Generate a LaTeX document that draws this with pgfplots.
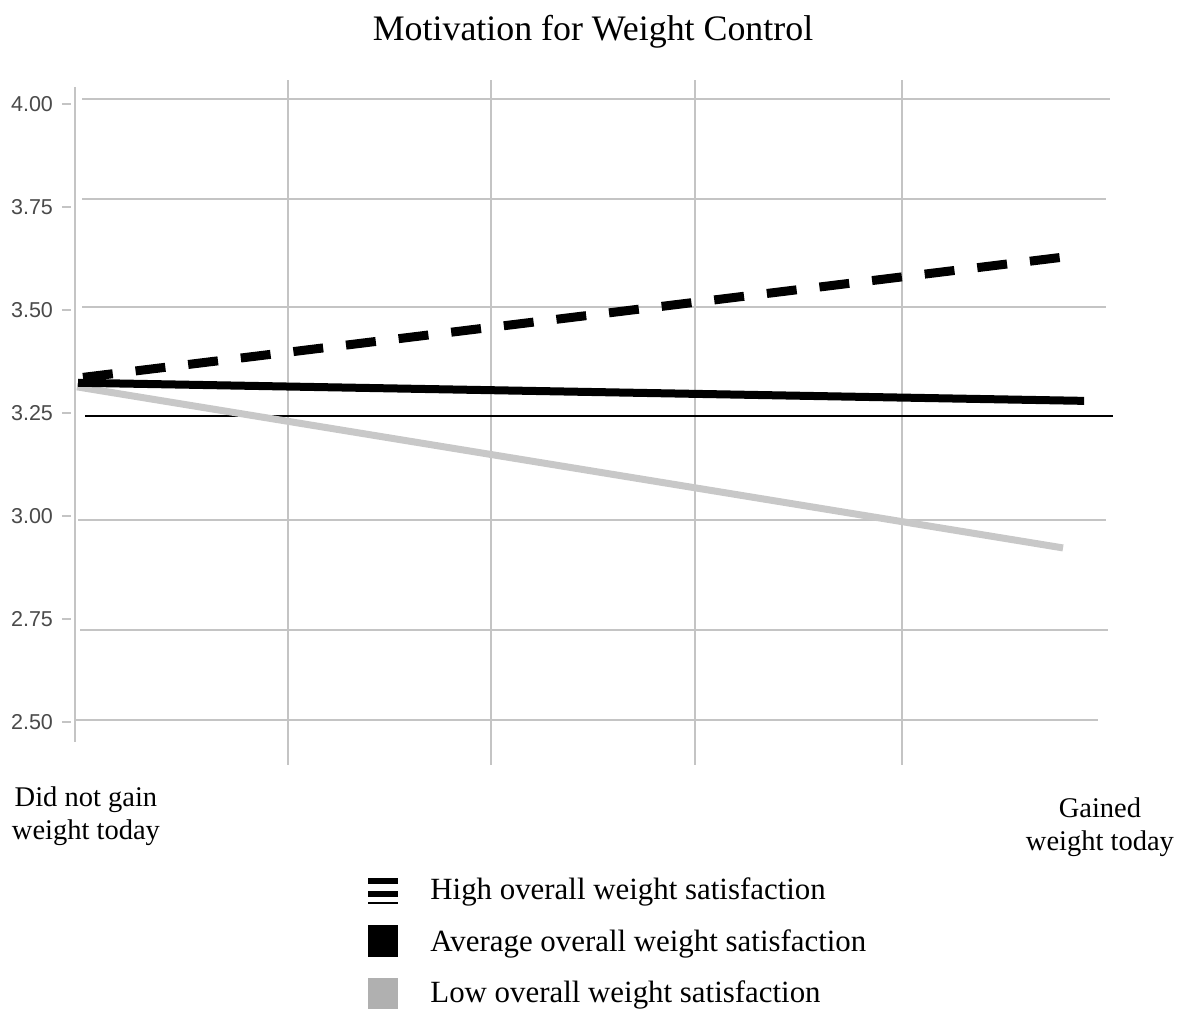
\documentclass[border=0pt]{standalone}
\usepackage{pgfplots}
\pgfplotsset{compat=1.18}
\usepackage{fontspec}
\setmainfont{Liberation Serif}
\newfontfamily\ticksans{Liberation Sans}
\definecolor{gridgray}{HTML}{C4C4C4}
\definecolor{lowgray}{HTML}{C8C8C8}
\definecolor{leggray}{HTML}{B0B0B0}
\definecolor{ticktext}{HTML}{4A4A4A}
\begin{document}
\begin{tikzpicture}
\useasboundingbox (0,0) rectangle (589.5bp,504.5bp);
\begin{axis}[
  at={(37.5bp,122bp)}, anchor=south west,
  scale only axis, width=517.5bp, height=342.5bp,
  xmin=0, xmax=1, ymin=2.396, ymax=4.059,
  clip=false,
  axis line style={draw=none},
  xtick={0.2058,0.4019,0.5990,0.7990},
  xticklabels={},
  xmajorgrids,
  grid style={gridgray, line width=1bp},
  xtick style={draw=none},
  ytick={2.5,2.75,3,3.25,3.5,3.75,4},
  ytick pos=left, ytick align=outside,
  major tick length=4.5bp,
  ytick style={gridgray, line width=1bp, xshift=-2bp},
  /pgf/number format/assume math mode=true,
  yticklabel style={font=\ticksans\fontsize{10.8}{12}\selectfont, text=ticktext, xshift=-3bp,
    /pgf/number format/.cd, fixed, fixed zerofill, precision=2},
  legend cell align=left,
  legend style={at={(axis description cs:0.2831,-0.1562)}, anchor=north west,
    draw=none, fill=none, inner sep=0pt, row sep=4.7bp, column sep=16bp,
    nodes={inner sep=0pt},
    font=\fontsize{15.5}{18}\selectfont},
]
% legend entries
\addlegendimage{legend image code/.code={
  \path[draw=none, fill=none] (0bp,-12bp) rectangle (15bp,9bp);
  \fill[black, draw=none] (0bp,3bp) rectangle (15bp,6bp);
  \fill[black, draw=none] (0bp,-3.5bp) rectangle (15bp,-0.5bp);
  \fill[black, draw=none] (0bp,-6bp) rectangle (15bp,-7bp);}}
\addlegendentry{High overall weight satisfaction}
\addlegendimage{legend image code/.code={
  \path[draw=none, fill=none] (0bp,-12bp) rectangle (15bp,9bp);
  \fill[black, draw=none] (0bp,-7.5bp) rectangle (15bp,8.5bp);}}
\addlegendentry{Average overall weight satisfaction}
\addlegendimage{legend image code/.code={
  \path[draw=none, fill=none] (0bp,-12bp) rectangle (15bp,9bp);
  \fill[leggray, draw=none] (0bp,-8bp) rectangle (15bp,7.5bp);}}
\addlegendentry{Low overall weight satisfaction}

% horizontal grid lines (as drawn in the reference)
\draw[gridgray, line width=1bp] (axis cs:0.007,4.013) -- (axis cs:1.0,4.013);
\draw[gridgray, line width=1bp] (axis cs:0.007,3.770) -- (axis cs:0.996,3.770);
\draw[gridgray, line width=1bp] (axis cs:0.007,3.508) -- (axis cs:0.996,3.508);
\draw[gridgray, line width=1bp] (axis cs:0.003,2.991) -- (axis cs:0.996,2.991);
\draw[gridgray, line width=1bp] (axis cs:0.005,2.724) -- (axis cs:0.998,2.724);
\draw[gridgray, line width=1bp] (axis cs:0.0,2.506) -- (axis cs:0.988,2.506);
\draw[black, line width=0.9bp] (axis cs:0.0097,3.243) -- (axis cs:1.003,3.243);
% y axis line
\draw[gridgray, line width=1bp] (axis cs:0,4.042) -- (axis cs:0,2.452);

% data
\addplot[forget plot, lowgray, line width=3.5bp] coordinates {(0.0019,3.314) (0.9546,2.923)};
\addplot[forget plot, black, line width=4bp] coordinates {(0.0029,3.324) (0.975,3.280)};
\addplot[forget plot, black, line width=4.5bp, dash pattern=on 15bp off 11.5bp] coordinates {(0.0077,3.337) (0.971,3.634)};

% title and category labels
\node[anchor=base, inner sep=0pt, font=\fontsize{18}{21}\selectfont] at (axis cs:0.5005,4.156) {Motivation for Weight Control};
\node[anchor=north, inner sep=0pt, align=center, font=\fontsize{14.3}{17}\selectfont] at (axis cs:0.0106,2.3454) {Did not gain\\weight today};
\node[anchor=north, inner sep=0pt, align=center, font=\fontsize{14.3}{17}\selectfont] at (axis cs:0.9903,2.3187) {Gained\\weight today};
\end{axis}
\end{tikzpicture}
\end{document}
